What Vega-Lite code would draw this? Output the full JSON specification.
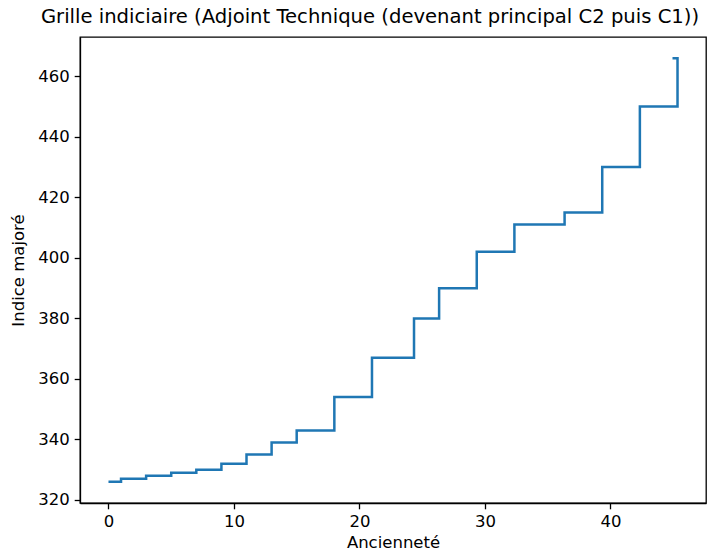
{
  "$schema": "https://vega.github.io/schema/vega-lite/v6.json",
  "width": 626,
  "height": 466,
  "autosize": {"type": "none"},
  "padding": {"left": 80, "top": 37, "right": 14, "bottom": 52},
  "background": "white",
  "title": {
    "text": "Grille indiciaire (Adjoint Technique (devenant principal C2 puis C1))",
    "font": "DejaVu Sans",
    "fontSize": 19.6,
    "fontWeight": "normal",
    "color": "#000",
    "anchor": "middle",
    "dx": -23,
    "offset": 9
  },
  "data": {
    "values": [
      {"i": 0, "anciennete": 0, "indice": 326},
      {"i": 1, "anciennete": 1, "indice": 327},
      {"i": 2, "anciennete": 3, "indice": 328},
      {"i": 3, "anciennete": 5, "indice": 329},
      {"i": 4, "anciennete": 7, "indice": 330},
      {"i": 5, "anciennete": 9, "indice": 332},
      {"i": 6, "anciennete": 11, "indice": 335},
      {"i": 7, "anciennete": 13, "indice": 339},
      {"i": 8, "anciennete": 15, "indice": 343},
      {"i": 9, "anciennete": 18, "indice": 354},
      {"i": 10, "anciennete": 21, "indice": 367},
      {"i": 11, "anciennete": 24.35, "indice": 380},
      {"i": 12, "anciennete": 26.35, "indice": 390},
      {"i": 13, "anciennete": 29.35, "indice": 402},
      {"i": 14, "anciennete": 32.35, "indice": 411},
      {"i": 15, "anciennete": 36.35, "indice": 415},
      {"i": 16, "anciennete": 39.35, "indice": 430},
      {"i": 17, "anciennete": 42.35, "indice": 450},
      {"i": 18, "anciennete": 45.35, "indice": 466},
      {"i": 19, "anciennete": 44.95, "indice": 466}
    ]
  },
  "mark": {"type": "line", "interpolate": "step-after", "color": "#1f77b4", "strokeWidth": 2.5, "clip": true},
  "encoding": {
    "x": {
      "field": "anciennete",
      "type": "quantitative",
      "title": "Ancienneté",
      "scale": {"domain": [-2.27, 47.62], "nice": false, "zero": false},
      "axis": {"values": [0, 10, 20, 30, 40], "titlePadding": 4}
    },
    "y": {
      "field": "indice",
      "type": "quantitative",
      "title": "Indice majoré",
      "scale": {"domain": [319, 473], "nice": false, "zero": false},
      "axis": {"values": [320, 340, 360, 380, 400, 420, 440, 460], "titlePadding": 11}
    },
    "order": {"field": "i", "type": "quantitative"}
  },
  "config": {
    "font": "DejaVu Sans",
    "view": {"stroke": "#000", "strokeWidth": 1.3},
    "axis": {
      "grid": false,
      "domainColor": "#000",
      "domainWidth": 1.3,
      "tickColor": "#000",
      "tickWidth": 1.3,
      "tickSize": 5.8,
      "labelPadding": 5,
      "labelFont": "DejaVu Sans",
      "labelFontSize": 16.5,
      "labelColor": "#000",
      "titleFont": "DejaVu Sans",
      "titleFontSize": 16.5,
      "titleFontWeight": "normal",
      "titleColor": "#000"
    }
  }
}
